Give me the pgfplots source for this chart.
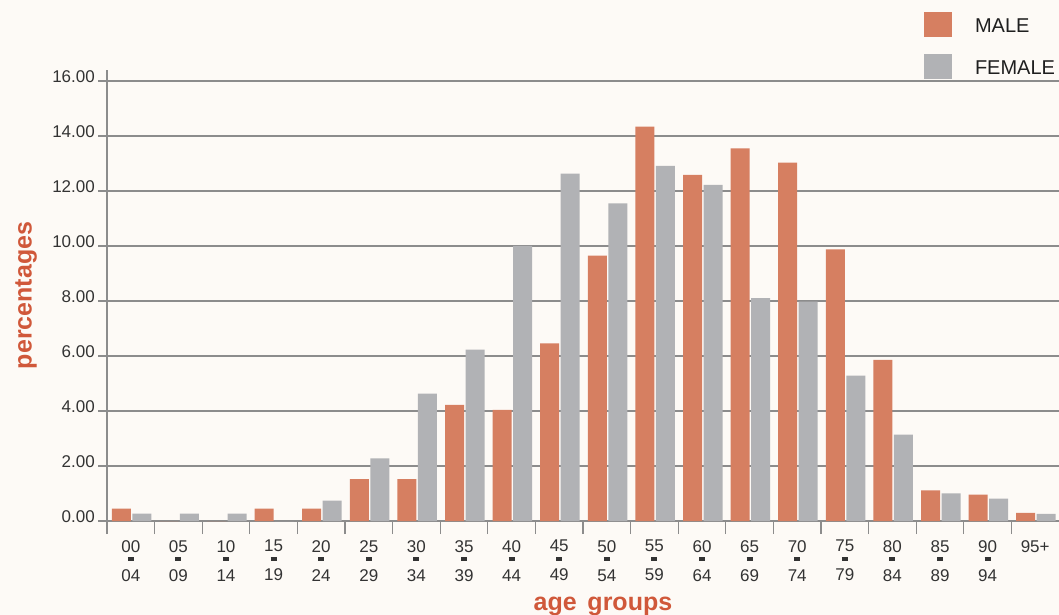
\documentclass[border=0pt]{standalone}
\usepackage{pgfplots}
\pgfplotsset{compat=1.18}
\usepackage{fontspec}
\setmainfont{Liberation Sans}
\definecolor{bg}{HTML}{FDFAF6}
\definecolor{male}{HTML}{D67F61}
\definecolor{female}{HTML}{B1B2B5}
\definecolor{ttl}{HTML}{D0583A}
\definecolor{gridc}{HTML}{8C8C8C}
\definecolor{txt}{HTML}{333333}
\newcommand{\dsh}{\rule[5.5pt]{6pt}{4pt}}
\begin{document}
\begin{tikzpicture}
\useasboundingbox (-107pt,-94pt) rectangle (952pt,521pt);
\fill[bg] (-107pt,-94pt) rectangle (952pt,521pt);
\begin{axis}[
  at={(0,0)}, anchor=south west,
  scale only axis, width=952pt, height=451pt,
  xmin=-0.5, xmax=19.5, ymin=0, ymax=16.4,
  axis lines*=left,
  axis line style={draw=gridc, line width=1.3pt},
  ytick={0,2,...,16},
  yticklabels={0.00,2.00,4.00,6.00,8.00,10.00,12.00,14.00,16.00},
  yticklabel style={font=\fontsize{17}{20}\selectfont, text=txt, anchor=base east, inner sep=0pt, xshift=-3pt, yshift=-1.5pt},
  ymajorgrids,
  major grid style={draw=gridc, line width=1.3pt},
  tick align=outside,
  major tick length=9pt,
  minor tick length=13pt,
  tick style={draw=gridc, line width=1.3pt},
  every major x tick/.append style={draw=none},
  xtick={0,...,19},
  minor xtick={-0.5,0.5,...,18.5},
  xticklabels={{00\\\dsh\\04},{05\\\dsh\\09},{10\\\dsh\\14},{15\\\dsh\\19},{20\\\dsh\\24},{25\\\dsh\\29},{30\\\dsh\\34},{35\\\dsh\\39},{40\\\dsh\\44},{45\\\dsh\\49},{50\\\dsh\\54},{55\\\dsh\\59},{60\\\dsh\\64},{65\\\dsh\\69},{70\\\dsh\\74},{75\\\dsh\\79},{80\\\dsh\\84},{85\\\dsh\\89},{90\\\dsh\\94},{95+}},
  xticklabel style={font=\fontsize{17}{14.5}\selectfont, text=txt, align=center, anchor=north, inner sep=0pt, yshift=-10pt},
  ylabel={percentages},
  ylabel style={at={(rel axis cs:-0.085,0.5)}, anchor=center, font=\fontsize{25}{30}\selectfont\bfseries, text=ttl},
  xlabel={age\hspace{0.15em} groups},
  xlabel style={at={(rel axis cs:0.521,0)}, anchor=base, yshift=-89pt, font=\fontsize{25}{30}\selectfont\bfseries, text=ttl},
  bar width=19pt,
  legend image code/.code={\fill[#1,draw=none] (0pt,-6pt) rectangle (28pt,19pt);},
  legend style={at={(rel axis cs:0.8582,1.1286)}, anchor=north west, draw=none, fill=none, inner sep=0pt, outer sep=0pt,
    font=\fontsize{20}{22}\selectfont, text=black!88, row sep=11pt,
    nodes={inner sep=0pt},
    /tikz/every odd column/.append style={column sep=23pt}},
  legend cell align=left,
  clip=false,
]
\addplot[ybar, bar shift=-9.5pt, fill=male, draw=none] coordinates {
(0,0.45) (1,0) (2,0) (3,0.45) (4,0.45) (5,1.52) (6,1.52) (7,4.22) (8,4.04) (9,6.46)
(10,9.65) (11,14.34) (12,12.59) (13,13.55) (14,13.03) (15,9.88) (16,5.86) (17,1.11) (18,0.96) (19,0.30)};
\addlegendentry{\raisebox{8.5pt}{MALE}}
\addplot[ybar, bar shift=11pt, fill=female, draw=none] coordinates {
(0,0.27) (1,0.27) (2,0.27) (3,0) (4,0.74) (5,2.28) (6,4.63) (7,6.23) (8,10.00) (9,12.63)
(10,11.55) (11,12.91) (12,12.22) (13,8.10) (14,7.98) (15,5.29) (16,3.14) (17,1.00) (18,0.81) (19,0.26)};
\addlegendentry{\raisebox{8.5pt}{FEMALE}}
\end{axis}
\end{tikzpicture}
\end{document}
